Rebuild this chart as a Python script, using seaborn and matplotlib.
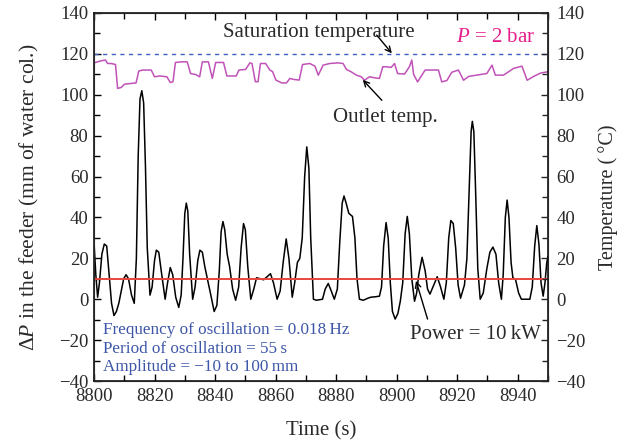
import numpy as np
import pandas as pd
import matplotlib
matplotlib.use("Agg")
import matplotlib.pyplot as plt
import seaborn as sns
from matplotlib.ticker import MultipleLocator

# ---------------- data ----------------
time_dp = [8800.0, 8800.6, 8801.2, 8801.8, 8802.6, 8803.4, 8804.2, 8805.0, 8805.8, 8806.6,
           8807.4, 8808.2, 8809.0, 8809.8, 8810.6, 8811.4, 8812.4, 8813.3, 8814.0, 8814.6,
           8815.2, 8815.8, 8816.4, 8817.0, 8817.6, 8818.5, 8819.2, 8820.0, 8820.6, 8821.4,
           8822.2, 8823.5, 8824.3, 8825.2, 8826.0, 8827.0, 8828.0, 8828.8, 8829.4, 8830.0,
           8830.5, 8831.0, 8831.6, 8832.6, 8833.4, 8834.3, 8835.0, 8835.8, 8836.6, 8837.6,
           8838.6, 8839.7, 8840.6, 8841.4, 8842.0, 8842.6, 8843.2, 8844.0, 8844.8, 8845.8,
           8846.8, 8847.8, 8848.6, 8849.4, 8850.0, 8850.8, 8851.8, 8852.8, 8853.7, 8855.0,
           8856.0, 8857.2, 8858.3, 8859.3, 8860.5, 8861.5, 8862.5, 8863.5, 8864.4, 8865.5,
           8866.3, 8867.2, 8868.0, 8868.8, 8869.6, 8870.3, 8871.0, 8871.6, 8872.5, 8873.5,
           8875.5, 8876.4, 8877.4, 8878.4, 8879.4, 8880.4, 8881.2, 8882.0, 8882.6, 8883.3,
           8884.2, 8885.4, 8886.2, 8886.9, 8887.7, 8889.0, 8890.5, 8891.5, 8893.0, 8894.3,
           8895.0, 8895.7, 8896.5, 8897.2, 8897.9, 8898.6, 8899.5, 8900.4, 8901.2, 8902.0,
           8902.8, 8903.5, 8904.2, 8905.0, 8905.9, 8906.6, 8907.3, 8908.4, 8909.4, 8910.2,
           8911.0, 8912.0, 8913.4, 8914.5, 8915.6, 8916.4, 8917.2, 8917.9, 8918.7, 8919.5,
           8920.3, 8921.1, 8921.8, 8922.4, 8923.2, 8924.0, 8924.6, 8925.0, 8925.5, 8926.1,
           8926.8, 8927.6, 8928.6, 8929.8, 8930.8, 8931.8, 8932.8, 8933.7, 8934.6, 8935.2,
           8935.9, 8936.5, 8937.1, 8937.8, 8938.4, 8939.3, 8940.3, 8941.2, 8944.0, 8944.8,
           8945.6, 8946.3, 8947.0, 8947.7, 8948.4, 8949.0, 8949.6, 8950.0]
dp_feeder = [28, 12, 1, 8, 22, 27, 26, 12, -2, -8,
             -6, -2, 4, 10, 12, 10, 2, -2, 20, 70,
             98, 102, 96, 65, 25, 2, 6, 19, 24, 23,
             14, 0, 8, 15.5, 12, 1, -4, 2, 20, 42,
             47, 43, 22, 0, 6, 19, 24, 23, 16, 9,
             2, -6, -3, 14, 33, 38, 34, 22, 16, 5,
             -0.5, 6, 25, 37, 34, 16, 0, 5, 10.5, 10,
             9.5, 11, 12.5, 8, 0, 4, 18, 29.5, 20, 1,
             8, 18, 20, 30, 60, 74.5, 64, 30, 0, -0.5,
             0, 5, 7.7, 4, 0, 5, 28, 47, 50.5, 47,
             42, 40.5, 30, 10, 0, -0.5, 0.5, 1, 1.2, 1.5,
             6, 26, 37.5, 30, 8, -6, -9.7, -7, -1, 8,
             32, 40.5, 32, 10, -1, 3, 12, 20.5, 14, 5,
             2.5, 6, 11, 6, 0, 8, 30, 38.5, 37, 25,
             7, 0.5, 4, 7, 20, 55, 82, 87, 82, 52,
             15, 0, 3, 15, 23, 25.5, 22, 8, 0, 12,
             40, 48.5, 40, 18, 10.5, 9.5, 3, 0, 0, 6,
             26, 36, 27, 8, 1.5, 8, 18, 21]

time_out = [8800.0, 8802.3, 8803.8, 8804.5, 8805.7, 8807.1, 8807.8, 8809.0, 8810.1, 8813.9,
            8814.8, 8816.1, 8818.9, 8820.0, 8821.7, 8824.1, 8825.2, 8826.1, 8826.9, 8828.8,
            8830.8, 8831.9, 8833.6, 8834.9, 8835.8, 8837.8, 8839.1, 8840.2, 8842.8, 8843.9,
            8847.0, 8847.9, 8850.1, 8851.5, 8852.2, 8853.3, 8854.2, 8855.0, 8856.7, 8858.1,
            8859.0, 8860.1, 8862.0, 8863.6, 8864.7, 8866.0, 8867.8, 8868.9, 8871.3, 8873.0,
            8874.1, 8875.7, 8877.9, 8880.6, 8882.3, 8883.4, 8885.0, 8886.7, 8888.3, 8889.4,
            8891.0, 8892.7, 8894.3, 8895.4, 8896.5, 8898.2, 8899.3, 8900.3, 8902.6, 8904.2,
            8905.0, 8905.6, 8906.9, 8909.4, 8913.8, 8914.9, 8916.6, 8918.2, 8920.4, 8922.1,
            8923.8, 8929.8, 8931.5, 8932.6, 8935.3, 8938.6, 8941.4, 8943.1, 8945.3, 8947.5,
            8949.7, 8950.0]
temp_outlet = [115.6, 116.6, 117.0, 115.3, 115.3, 114.8, 103.1, 103.6, 105.2, 105.8,
               111.6, 112.1, 112.1, 108.8, 109.2, 108.8, 106.0, 106.4, 115.8, 116.1,
               116.1, 110.4, 109.9, 108.8, 116.1, 116.1, 108.0, 115.8, 115.8, 109.2,
               109.2, 112.1, 112.4, 115.6, 115.3, 106.4, 106.4, 115.3, 115.3, 112.1,
               111.3, 107.2, 105.8, 105.8, 108.0, 107.5, 107.2, 114.8, 115.3, 114.0,
               109.6, 114.5, 115.3, 115.6, 115.3, 112.4, 111.2, 109.6, 108.8, 107.1,
               108.8, 108.3, 108.0, 113.7, 113.7, 113.4, 115.3, 110.4, 110.1, 113.7,
               117.0, 110.0, 106.3, 112.1, 112.1, 106.3, 107.0, 111.0, 112.1, 107.1,
               109.0, 110.4, 114.5, 109.6, 109.6, 112.9, 114.0, 107.1, 109.0, 110.6,
               111.2, 111.2]

sat_temp = 120
power_level = 10
x_ticks = [8800, 8820, 8840, 8860, 8880, 8900, 8920, 8940]
y_ticks = [-40, -20, 0, 20, 40, 60, 80, 100, 120, 140]
info_lines = ["Frequency of oscillation = 0.018\u2009Hz",
              "Period of oscillation = 55\u2009s",
              "Amplitude = \u221210 to 100\u2009mm"]

# ---------------- style ----------------
sns.set_style("ticks")
plt.rcParams['font.family'] = ['Liberation Serif', 'DejaVu Serif']
plt.rcParams['mathtext.fontset'] = 'custom'
plt.rcParams['mathtext.rm'] = 'Liberation Serif'
plt.rcParams['mathtext.it'] = 'Liberation Serif:italic'
plt.rcParams['mathtext.bf'] = 'Liberation Serif:bold'

TXT = '#2a2a2a'
FS_TICK = 13.5
FS_ANN = 15
FS_INFO = 12.3

fig = plt.figure(figsize=(6.27, 4.44), dpi=100)
ax = fig.add_axes([94/627, 1-381/444, (548-94)/627, (381-13)/444])

df_dp = pd.DataFrame({'time': time_dp, 'dp': dp_feeder})
df_out = pd.DataFrame({'time': time_out, 'temp': temp_outlet})

sns.lineplot(data=df_dp, x='time', y='dp', ax=ax, color='black', lw=1.1, estimator=None)
sns.lineplot(data=df_out, x='time', y='temp', ax=ax, color='#c052b8', lw=1.1, estimator=None)
ax.axhline(sat_temp, color='#3f5fc0', lw=1.0, ls=(0, (3, 3.2)))
ax.axhline(power_level, color='#e8453c', lw=1.4)

ax.set_xlim(8800, 8950)
ax.set_ylim(-40, 140)
ax.set_xticks(x_ticks)
ax.set_yticks(y_ticks)
ax.xaxis.set_minor_locator(MultipleLocator(10))
ax.yaxis.set_minor_locator(MultipleLocator(10))
ax.tick_params(which='both', direction='in', top=True, right=False,
               labelsize=FS_TICK, colors='black', labelcolor=TXT, width=1.0)
ax.tick_params(which='major', length=5, pad=4)
ax.tick_params(axis='x', which='major', pad=5)
ax.tick_params(which='minor', length=4)
for s in ax.spines.values():
    s.set_visible(True)
    s.set_linewidth(1.1)
    s.set_color('black')

ax2 = ax.twinx()
ax2.set_ylim(-40, 140)
ax2.set_yticks(y_ticks)
ax2.yaxis.set_minor_locator(MultipleLocator(10))
ax2.tick_params(which='both', direction='in', labelsize=FS_TICK, labelcolor=TXT, width=1.0)
ax2.tick_params(which='major', length=5, pad=6)
ax2.tick_params(which='minor', length=4)

ax.set_xlabel('Time (s)', fontsize=15, color=TXT, labelpad=12)
ax.set_ylabel(r'$\Delta P$ in the feeder (mm of water col.)', fontsize=15.5, color=TXT, labelpad=13)
ax2.set_ylabel('Temperature (\u2009\u00b0C)', fontsize=14.5, color=TXT, labelpad=9)

# annotations
ax.text(8842.6, 128.4, 'Saturation temperature', fontsize=FS_ANN, color=TXT, va='baseline', ha='left')
ax.annotate('', xy=(8898.4, 120.3), xytext=(8893.4, 129.2),
            arrowprops=dict(arrowstyle='->', color='black', lw=1.0, shrinkA=0, shrinkB=0))
ax.text(8932.6, 125.9, r'$P$ = 2 bar', fontsize=FS_ANN, color='#e5208c', va='baseline', ha='center')

ax.text(8879.0, 86.7, 'Outlet temp.', fontsize=FS_ANN, color=TXT, va='baseline', ha='left')
ax.annotate('', xy=(8888.8, 107.3), xytext=(8895.1, 97.3),
            arrowprops=dict(arrowstyle='->', color='black', lw=1.0, shrinkA=0, shrinkB=0))

ax.text(8904.4, -19.6, 'Power = 10\u2009kW', fontsize=FS_ANN, color=TXT, va='baseline', ha='left')
ax.annotate('', xy=(8906.4, 9.0), xytext=(8910.2, -9.7),
            arrowprops=dict(arrowstyle='->', color='black', lw=1.0, shrinkA=0, shrinkB=0))

for i, line in enumerate(info_lines):
    ax.text(8802.9, -17.1 - 9.0*i, line, fontsize=FS_INFO, color='#3d56a8', va='baseline', ha='left')

fig.savefig('out.png', dpi=100)
